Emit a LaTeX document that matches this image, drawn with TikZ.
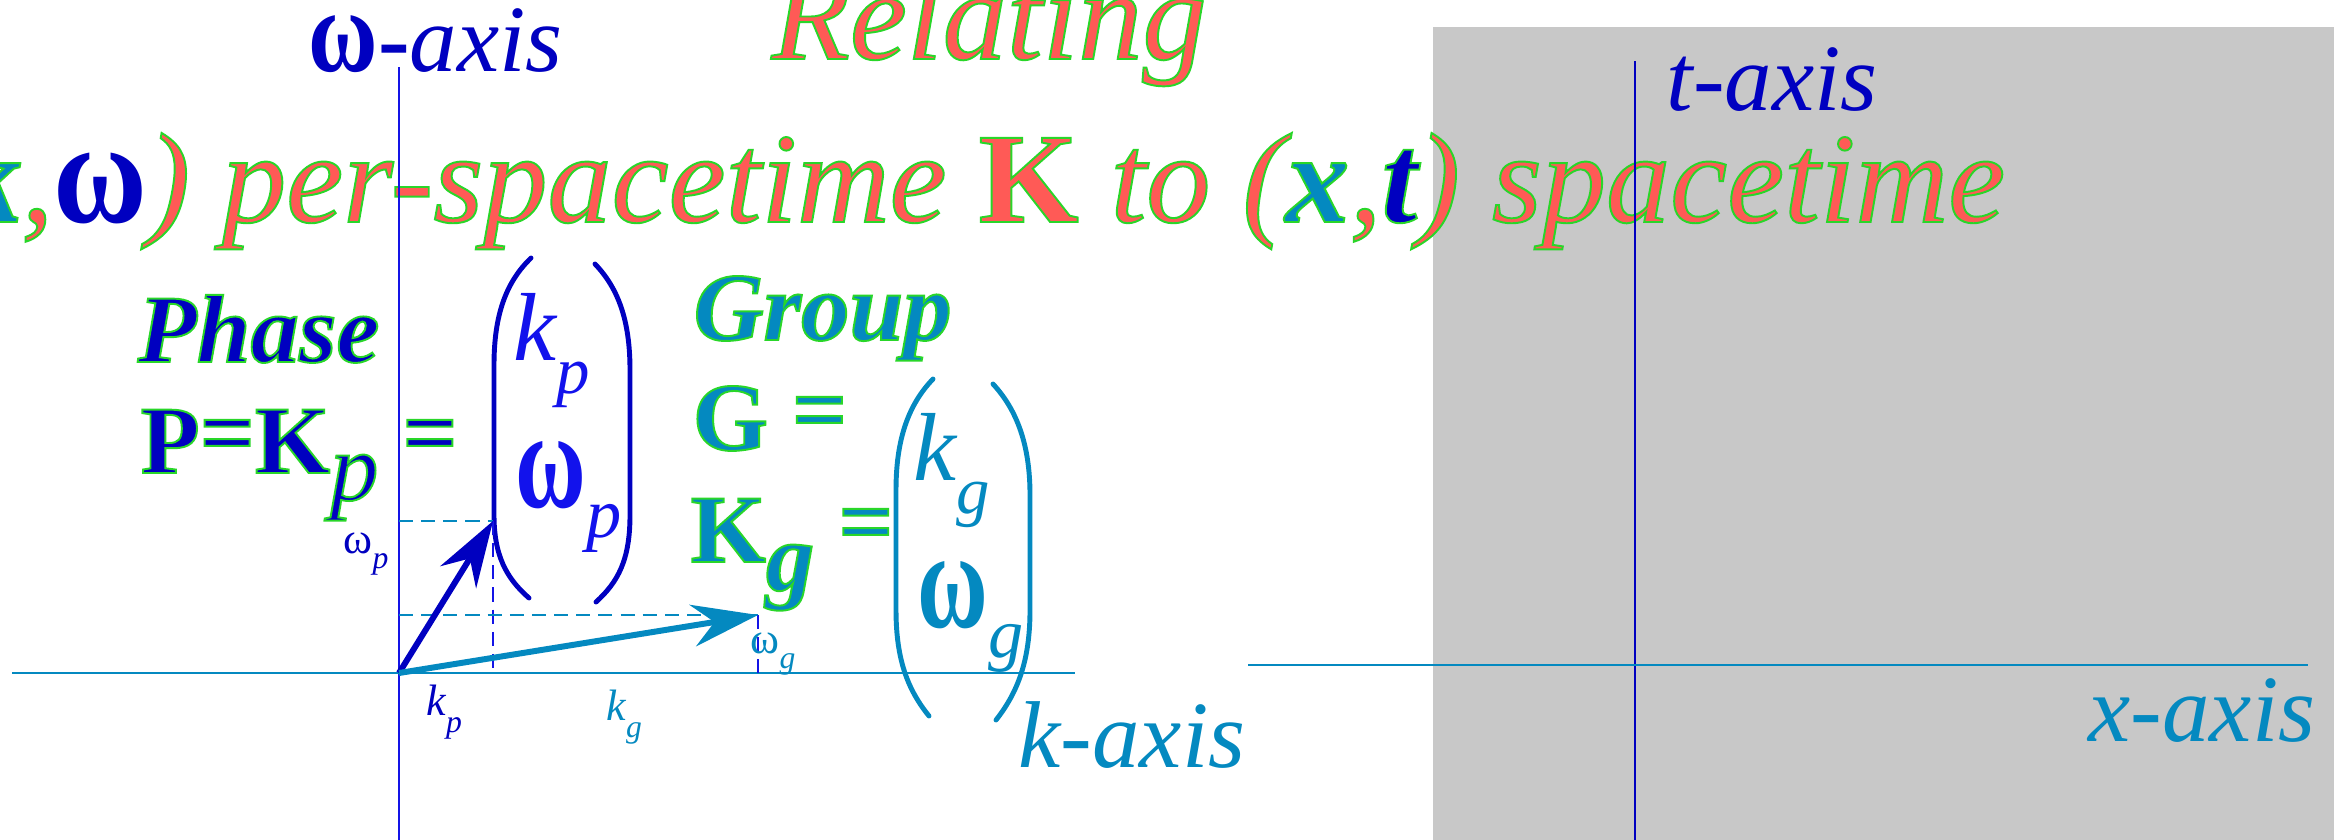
\documentclass[tikz,border=0pt]{standalone}
\usepackage{fontspec}
\usepackage{graphicx}
\setmainfont{Liberation Serif}
\usetikzlibrary{arrows.meta,positioning}
\definecolor{relred}{RGB}{255,90,86}
\definecolor{grpteal}{RGB}{4,137,192}
\definecolor{phsblue}{RGB}{0,0,192}
\definecolor{vecblue}{RGB}{18,18,236}
\definecolor{axblue}{RGB}{20,20,230}
\definecolor{panelgrey}{RGB}{200,200,200}
\newcommand\rim{\special{pdf:literal direct 2 Tr 0.55 w 0.16 0.84 0.16 RG}}
\newcommand\unrim{\special{pdf:literal direct 0 Tr}}
\newcommand\rc[2]{\textcolor{#1}{\rim#2}\rim}
\newcommand\lowsub[3]{\raisebox{-#1pt}{\fontsize{#2}{#2}\selectfont#3}}
\newcommand\eqs{\raisebox{2.3pt}{=}}
\newcommand\tallw[1][1.4]{\scalebox{1}[#1]{ω}}
\tikzset{
  txt/.style={inner sep=0pt, anchor=base west},
  title/.style={txt, text=relred, font=\fontsize{36.5}{40}\selectfont\itshape},
  head/.style={txt, font=\fontsize{27.5}{30}\selectfont\bfseries},
  headit/.style={head, font=\fontsize{27.5}{30}\selectfont\bfseries\itshape},
  axlabel/.style={txt, font=\fontsize{27}{30}\selectfont\itshape},
  entry/.style={txt, font=\fontsize{27.5}{30}\selectfont},
  tick/.style={txt, font=\fontsize{12.5}{14}\selectfont},
  axis/.style={line width=0.65pt},
  vec/.style={-{Stealth[length=6.6mm,width=4.2mm,inset=2.2mm]}, line width=1.7pt},
  drop/.style={line width=0.6pt, dash pattern=on 4pt off 2.3pt},
  brk/.style={line width=1.4pt, line cap=round},
}

\begin{document}
\begin{tikzpicture}[x=0.01cm, y=-0.01cm]
  \useasboundingbox (0,0) rectangle (2334,839);
  \fill[panelgrey] (1433,27) rectangle (2340,845);
  \node[title, anchor=base] (relating) at (989,59) {\rim Relating\unrim};
  \node[title, anchor=base east] (relline) at (2006,222) {\rim(\rc{grpteal}{\bfseries k},\textcolor{phsblue}{\unrim\upshape\bfseries\tallw[1.15]}\rim) per-spacetime {\upshape\bfseries K} to (\rc{grpteal}{\bfseries x},\rc{phsblue}{\bfseries t}) spacetime\unrim};
  \coordinate (wtop) at (399,67);
  \coordinate (wbot) at (399,845);
  \coordinate (kl) at (12,673);
  \coordinate (kr) at (1075,673);
  \coordinate (ttop) at (1635,61);
  \coordinate (tbot) at (1635,845);
  \coordinate (xl) at (1248,665);
  \coordinate (xr) at (2308,665);
  \coordinate (O) at (399,673);
  \coordinate (ptip) at (493,521);
  \coordinate (gtip) at (758,615);
  \draw[axis, axblue] (wtop) -- (wbot);
  \draw[axis, grpteal] (kl) -- (kr);
  \draw[axis, phsblue] (ttop) -- (tbot);
  \draw[axis, grpteal] (xl) -- (xr);
  \node[axlabel, text=phsblue] (wlab) at (308,71) {{\upshape\bfseries\tallw[1.25]-}axis};
  \node[axlabel, text=phsblue] (tlab) at (1666,110) {t-axis};
  \node[axlabel, text=grpteal] (xlab) at (2088,741) {x-axis};
  \node[axlabel, text=grpteal] (klab) at (1018,767) {k-axis};
  \node[headit, text=phsblue] (phase) at (137,362) {\rim Phase\unrim};
  \node[head, text=phsblue] (pkeq) at (140,473) {\rim P\eqs K\lowsub{7.7}{27.5}{\mdseries\itshape p} \eqs\unrim};
  \node[headit, text=grpteal] (group) at (693,340) {\rim Group\unrim};
  \node[head, text=grpteal] (geq) at (692,450) {\rim G \eqs\unrim};
  \node[head, text=grpteal] (kgeq) at (690,562) {\rim K\lowsub{8}{27.5}{\itshape g} \eqs\unrim};
  \draw[brk, phsblue] (531,258) .. controls (506,282) and (494,315) .. (494,365) -- (494,515)
    .. controls (494,555) and (506,578) .. (529,598);
  \draw[brk, phsblue] (595,264) .. controls (618,288) and (630,320) .. (630,370) -- (630,515)
    .. controls (630,560) and (618,582) .. (596,602);
  \draw[brk, grpteal] (933,379) .. controls (908,405) and (896,440) .. (896,490) -- (896,610)
    .. controls (896,660) and (908,690) .. (929,716);
  \draw[brk, grpteal] (993,384) .. controls (1017,410) and (1030,445) .. (1030,495) -- (1030,610)
    .. controls (1030,660) and (1018,692) .. (996,720);
  \node[entry, text=vecblue] (kpv) at (513,360) {\itshape k\lowsub{9.4}{19}{p}};
  \node[entry, text=vecblue] (wpv) at (515,507) {\bfseries\tallw[1.45]\lowsub{8.8}{20}{\mdseries\itshape p}};
  \node[entry, text=grpteal] (kgv) at (913,480) {\itshape k\lowsub{9.4}{19}{g}};
  \node[entry, text=grpteal] (wgv) at (917,627) {\bfseries\tallw[1.45]\lowsub{8.8}{20}{\mdseries\itshape g}};
  \draw[drop, grpteal] (O |- ptip) -- (ptip);
  \draw[drop, axblue] (ptip) -- (ptip |- O);
  \draw[drop, grpteal] (O |- gtip) -- (gtip);
  \draw[drop, axblue] (gtip) -- (gtip |- O);
  \draw[vec, phsblue] (O) -- (ptip);
  \draw[vec, grpteal] (O) -- (gtip);
  \node[tick, text=phsblue] (wplab) at (343,553) {ω\lowsub{4.3}{9}{\itshape p}};
  \node[tick, text=phsblue] (kplab) at (426,715) {\itshape k\lowsub{5}{9}{p}};
  \node[tick, text=grpteal] (kglab) at (606,720) {\itshape k\lowsub{5}{9}{g}};
  \node[tick, text=grpteal] (wglab) at (750,653) {ω\lowsub{4.3}{9}{\itshape g}};
\end{tikzpicture}
\end{document}
